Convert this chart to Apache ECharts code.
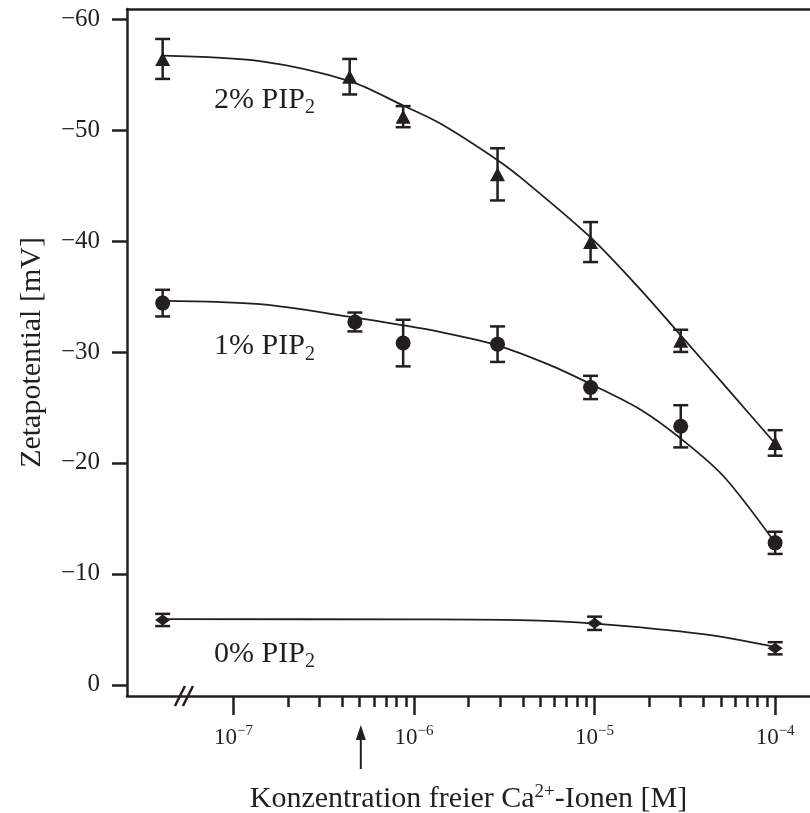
<!DOCTYPE html>
<html>
<head>
<meta charset="utf-8">
<script src="https://cdn.jsdelivr.net/npm/echarts@6/dist/echarts.min.js"></script>
<style>
  html, body { margin: 0; padding: 0; background: #fff; }
  #chart { width: 810px; height: 813px; }
</style>
</head>
<body>
<div id="chart"></div>
<script>
// measured points (Ca2+ concentration in M, zeta potential in mV, error)
var conc2 = [4.05e-8, 4.4e-7, 8.7e-7, 2.9e-6, 9.5e-6, 3.0e-5, 1.0e-4];
var zeta2 = [-56.4, -54.8, -51.2, -46.0, -39.9, -31.0, -21.8];
var err2 = [1.8, 1.6, 0.95, 2.35, 1.8, 1.0, 1.15];

var conc1 = [4.05e-8, 4.7e-7, 8.7e-7, 2.9e-6, 9.5e-6, 3.0e-5, 1.0e-4];
var zeta1 = [-34.4, -32.7, -30.8, -30.7, -26.8, -23.3, -12.8];
var err1 = [1.2, 0.85, 2.1, 1.6, 1.05, 1.9, 1.0];

var conc0 = [4.05e-8, 1.0e-5, 1.0e-4];
var zeta0 = [-5.85, -5.55, -3.3];
var err0 = [0.55, 0.6, 0.55];

// fitted curves
var fitX2 = [4.05e-8, 1.4e-7, 4.4e-7, 8.7e-7, 1.39e-6, 2.89e-6, 4.04e-6, 9.53e-6, 1.8e-5, 3.0e-5, 5.5e-5, 1.0e-4];
var fitY2 = [-56.7, -56.2, -54.4, -52.2, -50.6, -47.3, -45.5, -40.3, -35.6, -31.5, -26.6, -21.75];
var fitX1 = [4.05e-8, 1.4e-7, 4.7e-7, 8.7e-7, 1.39e-6, 2.89e-6, 5.5e-6, 9.53e-6, 1.8e-5, 3.0e-5, 5.18e-5, 1.0e-4];
var fitY1 = [-34.6, -34.3, -33.1, -32.4, -31.8, -30.6, -28.9, -27.1, -24.8, -22.2, -18.8, -12.8];
var fitX0 = [4.05e-8, 1.0e-6, 3.86e-6, 1.0e-5, 3.99e-5, 1.0e-4];
var fitY0 = [-5.93, -5.9, -5.84, -5.53, -4.58, -3.43];

// axis ticks
var xMajor = [1e-7, 1e-6, 1e-5, 1e-4];
var xMinor = [];
[1e-7, 1e-6, 1e-5].forEach(function (d) {
  for (var k = 2; k <= 9; k++) xMinor.push(+(k * d).toPrecision(3));
});
var yTicks = [0, -10, -20, -30, -40, -50, -60];

// annotations
var labelText = ['2% PIP', '1% PIP', '0% PIP'];
var labelX = [7.8e-8, 7.8e-8, 7.8e-8];
var labelY = [-52.7, -30.5, -2.8];
var arrowConc = 5.07e-7;
var breakConc = 5.38e-8;

var ink = '#231f20';
var font = 'Liberation Serif';

var chart = echarts.init(document.getElementById('chart'));

function errorBars(conc, zeta, err) {
  return {
    type: 'custom',
    z: 3,
    data: conc.map(function (c, i) { return [c, zeta[i], err[i]]; }),
    encode: { x: 0, y: 1 },
    renderItem: function (params, api) {
      var x = api.value(0), y = api.value(1), e = api.value(2);
      var a = api.coord([x, y - e]);
      var b = api.coord([x, y + e]);
      var st = { stroke: ink, lineWidth: 2.5 };
      return {
        type: 'group',
        children: [
          { type: 'line', shape: { x1: a[0], y1: a[1], x2: b[0], y2: b[1] }, style: st },
          { type: 'line', shape: { x1: a[0] - 7.5, y1: a[1], x2: a[0] + 7.5, y2: a[1] }, style: st },
          { type: 'line', shape: { x1: b[0] - 7.5, y1: b[1], x2: b[0] + 7.5, y2: b[1] }, style: st }
        ]
      };
    }
  };
}

function markers(conc, zeta, symbol, size) {
  return {
    type: 'scatter',
    z: 4,
    symbol: symbol,
    symbolSize: size,
    itemStyle: { color: ink, opacity: 1 },
    data: conc.map(function (c, i) { return [c, zeta[i]]; })
  };
}

function fit(xs, ys) {
  return {
    type: 'line',
    z: 2,
    smooth: 0.3,
    showSymbol: false,
    lineStyle: { color: ink, width: 1.8 },
    data: xs.map(function (c, i) { return [c, ys[i]]; })
  };
}

var option = {
  animation: false,
  backgroundColor: '#fff',
  textStyle: { fontFamily: font, color: ink },
  grid: { left: 127, right: 0, top: 9, bottom: 117, containLabel: false, outerBoundsMode: 'none' },
  xAxis: [
    {
      type: 'log', logBase: 10, min: 2.57e-8, max: 1.56e-4, position: 'bottom',
      axisLine: { onZero: false, lineStyle: { color: ink, width: 2.5 } },
      axisTick: { customValues: xMajor, length: 19, lineStyle: { color: ink, width: 2.5 } },
      splitLine: { show: false },
      axisLabel: {
        customValues: xMajor,
        margin: 28,
        formatter: function (v) {
          return '{b|10}{s|−' + Math.round(-Math.log10(v)) + '}';
        },
        rich: {
          b: { fontFamily: font, fontSize: 23, color: ink },
          s: { fontFamily: font, fontSize: 15, color: ink, padding: [0, 0, 12, 0] }
        }
      },
      name: '{a|Konzentration freier Ca}{p|2+}{a|-Ionen [M]}',
      nameLocation: 'middle',
      nameGap: 87,
      nameTextStyle: {
        rich: {
          a: { fontFamily: font, fontSize: 30, color: ink },
          p: { fontFamily: font, fontSize: 19, color: ink, padding: [0, 0, 14, 0] }
        }
      }
    },
    {
      type: 'log', logBase: 10, min: 2.57e-8, max: 1.56e-4, position: 'bottom',
      axisLine: { show: false, onZero: false },
      axisTick: { customValues: xMinor, length: 11, lineStyle: { color: ink, width: 2.5 } },
      axisLabel: { show: false },
      splitLine: { show: false }
    },
    {
      type: 'log', logBase: 10, min: 2.57e-8, max: 1.56e-4, position: 'top',
      axisLine: { onZero: false, lineStyle: { color: ink, width: 2.5 } },
      axisTick: { show: false },
      axisLabel: { show: false },
      splitLine: { show: false }
    }
  ],
  yAxis: {
    type: 'value', inverse: true, min: -60.9, max: 1.0,
    axisLine: { show: true, onZero: false, lineStyle: { color: ink, width: 2.5 } },
    axisTick: { show: true, customValues: yTicks, length: 15, lineStyle: { color: ink, width: 2.5 } },
    splitLine: { show: false },
    axisLabel: {
      customValues: yTicks,
      margin: 27,
      fontFamily: font, fontSize: 25, color: ink,
      formatter: function (v) { return v === 0 ? '0' : '−' + Math.abs(v); }
    },
    name: 'Zetapotential [mV]',
    nameLocation: 'middle',
    nameGap: 80,
    nameTextStyle: { fontFamily: font, fontSize: 30, color: ink }
  },
  series: [
    fit(fitX2, fitY2),
    fit(fitX1, fitY1),
    fit(fitX0, fitY0),
    errorBars(conc2, zeta2, err2),
    errorBars(conc1, zeta1, err1),
    errorBars(conc0, zeta0, err0),
    markers(conc2, zeta2, 'triangle', [15, 14]),
    markers(conc1, zeta1, 'circle', 15),
    markers(conc0, zeta0, 'diamond', [15, 11]),
    {
      // curve names written beside the curves
      type: 'custom',
      silent: true,
      clip: false,
      data: labelText.map(function (t, i) { return [labelX[i], labelY[i], i]; }),
      renderItem: function (params, api) {
        var p = api.coord([api.value(0), api.value(1)]);
        return {
          type: 'text',
          x: p[0],
          y: p[1],
          style: {
            text: '{a|' + labelText[api.value(2)] + '}{s|2}',
            fill: ink,
            align: 'left',
            verticalAlign: 'middle',
            rich: {
              a: { fontFamily: font, fontSize: 30, fill: ink },
              s: { fontFamily: font, fontSize: 20, fill: ink, padding: [16, 0, 0, 0] }
            }
          }
        };
      }
    },
    {
      type: 'custom',
      clip: false,
      silent: true,
      data: [[arrowConc, 0]],
      renderItem: function (params, api) {
        var p = api.coord([api.value(0), 0]);
        var base = params.coordSys.y + params.coordSys.height;
        return {
          type: 'group',
          children: [
            { type: 'line', shape: { x1: p[0], y1: base + 40, x2: p[0], y2: base + 73 }, style: { stroke: ink, lineWidth: 2 } },
            { type: 'polygon', shape: { points: [[p[0], base + 29], [p[0] - 5, base + 44], [p[0] + 5, base + 44]] }, style: { fill: ink } }
          ]
        };
      }
    },
    {
      type: 'custom',
      clip: false,
      silent: true,
      data: [[breakConc, 0]],
      renderItem: function (params, api) {
        var p = api.coord([api.value(0), 0]);
        var base = params.coordSys.y + params.coordSys.height;
        var st = { stroke: ink, lineWidth: 2.5 };
        return {
          type: 'group',
          children: [
            { type: 'line', shape: { x1: p[0] - 10, y1: base + 10, x2: p[0], y2: base - 10 }, style: st },
            { type: 'line', shape: { x1: p[0] - 2, y1: base + 10, x2: p[0] + 8, y2: base - 10 }, style: st }
          ]
        };
      }
    }
  ]
};

chart.setOption(option);
</script>
</body>
</html>
